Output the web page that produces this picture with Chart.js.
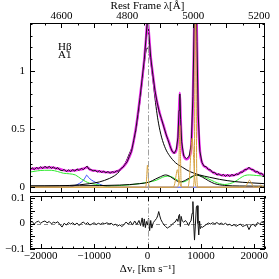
<!DOCTYPE html>
<html>
<head>
<meta charset="utf-8">
<script src="https://cdn.jsdelivr.net/npm/chart.js@4.4.0/dist/chart.umd.min.js"></script>
<style>
  html, body { margin: 0; padding: 0; background: #fff; }
  #wrap { position: relative; width: 279px; height: 279px; overflow: hidden; }
  #top { position: absolute; left: 0; top: 0; }
  #res { position: absolute; left: 0; top: 184px; }
</style>
</head>
<body>
<div id="wrap">
  <canvas id="top" width="279" height="205"></canvas>
  <canvas id="res" width="279" height="95"></canvas>
</div>
<script>
// Hbeta rest frame, velocity <-> wavelength
const LAMBDA0 = 4861.33;
const C_KMS = 299792.458;
const V_MIN = -22000, V_MAX = 22000;
const toLambda = v => LAMBDA0 * (1 + v / C_KMS);

// tick labels
const lambdaTicks = [4600, 4800, 5000, 5200];
const velocityTicks = [-20000, -10000, 0, 10000, 20000];
const fluxTicks = [0, 0.5, 1];
const residTicks = [-0.1, -0.05, 0, 0.05, 0.1];

// observed spectrum (black, noisy)
const obsV = [
  -22000,-21600,-21200,-20800,-20400,-20000,-19600,-19200,-18800,-18400,
  -18000,-17600,-17200,-16800,-16400,-16000,-15600,-15200,-14800,-14400,
  -14000,-13600,-13200,-12800,-12400,-12000,-11600,-11300,-11000,-10600,
  -10200,-9800,-9400,-9000,-8600,-8200,-7800,-7400,-7000,-6600,
  -6200,-5800,-5400,-5000,-4600,-4200,-3800,-3400,-3000,-2600,
  -2200,-1800,-1400,-1000,-600,-300,0,300,600,1000,
  1400,1800,2200,2600,3000,3400,3800,4200,4600,5000,
  5400,5700,5900,6050,6200,6400,6800,7300,7800,8200,
  8500,8750,9000,9250,9500,9800,10200,10600,11000,11400,
  11800,12200,12600,13000,13400,13800,14200,14600,15000,15400,
  15800,16200,16600,17000,17400,17800,18200,18600,19000,19400,
  19800,20200,20600,21000,21400,21800,22000
];
const obsFlux = [
  0.147,0.167,0.150,0.170,0.158,0.176,0.160,0.180,0.163,0.179,
  0.162,0.175,0.155,0.168,0.148,0.141,0.153,0.133,0.149,0.134,
  0.151,0.138,0.157,0.143,0.162,0.151,0.170,0.181,0.155,0.152,
  0.139,0.146,0.130,0.142,0.127,0.137,0.123,0.134,0.120,0.133,
  0.126,0.140,0.137,0.160,0.170,0.196,0.218,0.266,0.308,0.398,
  0.490,0.625,0.770,0.935,1.095,1.270,1.460,1.290,1.115,0.965,
  0.830,0.730,0.645,0.590,0.525,0.465,0.410,0.355,0.310,0.290,
  0.325,0.430,0.660,0.800,0.580,0.390,0.265,0.245,0.265,0.370,
  0.780,1.450,2.000,1.250,0.620,0.310,0.212,0.180,0.176,0.150,
  0.150,0.124,0.128,0.104,0.116,0.097,0.110,0.093,0.108,0.092,
  0.109,0.097,0.115,0.108,0.131,0.127,0.152,0.150,0.172,0.150,
  0.152,0.129,0.136,0.112,0.120,0.097,0.104
];

// total model (magenta)
const modelV = [
  -22000,-21000,-20000,-19000,-18000,-17000,-16000,-15000,-14000,-13000,
  -12000,-11500,-11200,-10800,-10000,-9000,-8000,-7000,-6000,-5000,
  -4000,-3500,-3000,-2500,-2000,-1500,-1000,-600,-300,0,
  300,600,1000,1500,2000,2500,3000,3500,4000,4500,
  5000,5400,5700,5900,6050,6200,6400,6800,7300,7800,
  8200,8500,8750,9000,9250,9500,9800,10300,11000,12000,
  13000,14000,15000,16000,17000,18000,19000,20000,21000,22000
];
const modelFlux = [
  0.155,0.16,0.165,0.17,0.17,0.163,0.15,0.14,0.143,0.15,
  0.158,0.168,0.17,0.152,0.142,0.135,0.13,0.127,0.132,0.155,
  0.205,0.25,0.31,0.42,0.56,0.74,0.93,1.1,1.26,1.44,
  1.3,1.12,0.97,0.8,0.69,0.6,0.53,0.45,0.39,0.32,
  0.295,0.32,0.42,0.65,0.81,0.6,0.38,0.27,0.24,0.26,
  0.36,0.75,1.4,2.0,1.3,0.6,0.32,0.2,0.17,0.135,
  0.112,0.103,0.1,0.102,0.115,0.14,0.162,0.14,0.12,0.1
];

// broad Hbeta component (black)
const broadV = [
  -22000,-16500,-12760,-10880,-9000,-8070,-7130,-6190,-5630,-4880,
  -4130,-3380,-2630,-2060,-1500,-1130,-750,-380,-90,190,
  560,940,1310,1690,2060,2630,3380,4130,5250,6570,
  7880,9750,11630,13510,16320,19140,22000
];
const broadFlux = [
  0.01,0.012,0.02,0.03,0.045,0.058,0.075,0.098,0.118,0.155,
  0.21,0.29,0.38,0.52,0.7,0.85,1.0,1.14,1.195,1.18,
  1.09,0.95,0.8,0.66,0.55,0.43,0.33,0.27,0.21,0.17,
  0.135,0.105,0.085,0.067,0.048,0.038,0.03
];

// second black component (bumps)
const bumpV = [-22000,-12760,-5250,-1500,380,1500,2440,3380,4320,5250,
  6190,7130,8070,9190,10320,11440,12570,14450,17260,22000];
const bumpFlux = [0.01,0.012,0.018,0.03,0.045,0.07,0.09,0.105,0.09,0.06,
  0.045,0.06,0.085,0.105,0.085,0.055,0.03,0.015,0.01,0.008];

// FeII template (green)
const feV = [
  -22000,-20640,-19320,-18010,-16880,-15760,-14630,-13510,-12380,-11630,
  -10880,-9760,-8630,-7500,-6190,-4880,-3380,-1500,380,1690,
  2810,3750,4690,5630,6570,7500,8440,9190,10130,11260,
  12570,13510,14450,15390,16320,17260,18200,19140,20450,22000
];
const feFlux = [
  0.13,0.14,0.145,0.145,0.135,0.12,0.115,0.105,0.07,0.05,
  0.035,0.025,0.015,0.01,0.012,0.015,0.02,0.03,0.045,0.06,
  0.085,0.095,0.085,0.06,0.045,0.06,0.09,0.103,0.095,0.075,
  0.046,0.03,0.023,0.03,0.046,0.075,0.1,0.105,0.1,0.095
];

// HeII 4686 (blue)
const heV = [-22000,-16000,-14600,-13700,-12760,-12000,-11630,-11390,-11070,
  -10510,-9760,-9000,-8250,-7500,-6750,-5600,22000];
const heFlux = [0,0,0.002,0.012,0.032,0.06,0.085,0.103,0.085,
  0.062,0.042,0.026,0.013,0.005,0.001,0,0];

// narrow lines (gold): Hb, [OIII]4959, [OIII]5007, weak red lines
const narrowV = [
  -22000,-500,-250,-120,0,120,250,500,
  5550,5800,5930,6050,6170,6300,6550,
  8500,8750,8870,8990,9110,9230,9480,
  18000,18500,18800,19100,19400,19700,20100,
  20700,20950,21200,21450,21700,22000
];
const narrowFlux = [
  0,0,0.02,0.12,0.19,0.12,0.02,0,
  0,0.03,0.3,0.53,0.3,0.03,0,
  0,0.09,0.9,1.6,0.9,0.09,0,
  0,0.015,0.04,0.06,0.04,0.015,0,
  0,0.01,0.018,0.01,0,0
];

// [OIII] blue wings (gold)
const wingV = [-22000,4800,5100,5350,5590,5830,6080,6400,7550,7850,8100,8350,8600,8850,9150,22000];
const wingFlux = [0,0,0.03,0.1,0.15,0.1,0.03,0,0,0.08,0.28,0.42,0.28,0.08,0,0];

// residuals
const resV = [
  -22000,-21600,-21200,-20800,-20400,-20000,-19600,-19200,-18800,-18400,
  -18000,-17600,-17200,-16800,-16400,-16000,-15600,-15200,-14800,-14400,
  -14000,-13600,-13200,-12800,-12400,-12000,-11600,-11200,-10800,-10400,
  -10000,-9600,-9200,-8800,-8400,-8000,-7600,-7200,-6800,-6400,
  -6000,-5600,-5200,-4800,-4400,-4000,-3600,-3200,-2800,-2400,
  -2000,-1600,-1300,-1000,-800,-600,-400,-200,0,200,
  400,600,800,1100,1400,1700,1900,2100,2300,2500,
  2800,3100,3400,3700,4000,4300,4600,4900,5200,5500,
  5700,5850,6000,6150,6300,6500,6800,7100,7400,7700,
  7950,8150,8350,8500,8650,8800,8950,9150,9300,9450,
  9600,9750,9900,10100,10300,10600,11000,11400,11800,12200,
  12600,13000,13400,13800,14200,14600,15000,15400,15800,16200,
  16600,17000,17400,17800,18200,18600,19000,19400,19800,20200,
  20600,21000,21400,21800,22000
];
const resFlux = [
  0.004,0.008,-0.002,0.006,0.009,0.001,0.007,0.010,0.003,0.008,
  -0.001,0.005,0.002,0.007,-0.004,-0.014,0.001,-0.006,0.004,-0.002,
  0.003,-0.005,0.002,-0.008,0.001,0.006,-0.003,0.004,-0.006,-0.002,
  0.003,-0.004,0.001,-0.003,0.002,-0.001,0.003,-0.002,0.001,-0.006,
  -0.003,-0.010,-0.005,-0.012,-0.004,0.006,-0.003,0.008,-0.006,0.010,
  -0.004,0.012,-0.008,0.022,-0.012,0.018,-0.016,0.008,-0.006,0.020,
  -0.028,0.012,-0.018,0.004,0.012,0.020,0.030,0.047,0.030,0.016,
  0.004,-0.006,-0.012,-0.018,-0.014,-0.010,-0.004,0.003,0.006,0.018,
  0.008,0.030,0.036,-0.012,0.028,0.010,0.005,0.012,0.004,-0.008,
  0.006,0.010,0.040,0.086,0.000,-0.065,-0.010,0.065,0.070,0.000,
  -0.045,0.010,-0.020,-0.012,-0.015,-0.010,-0.004,0.002,-0.002,0.003,
  -0.001,0.004,-0.003,0.002,-0.004,0.001,-0.006,-0.003,-0.009,-0.004,
  -0.011,-0.006,-0.002,-0.012,-0.008,-0.004,-0.024,-0.006,-0.003,-0.012,
  0.004,-0.002,0.006,0.002,0.004
];

const pts = (xs, ys) => xs.map((x, i) => ({ x: x, y: ys[i] }));
const fmt = v => String(+Number(v).toFixed(3)).replace('-', '\u2212');

Chart.defaults.font.family = "'Liberation Serif', 'DejaVu Serif', serif";
Chart.defaults.font.size = 11;
Chart.defaults.color = '#000';

function eachTick(min, max, step, major, fn) {
  for (let i = Math.ceil(min / step - 1e-9); i * step <= max + 1e-9; i++) {
    const val = i * step;
    const r = val / major;
    fn(val, Math.abs(r - Math.round(r)) < 1e-6);
  }
}

// box, inward ticks on all sides, reference lines
const framePlugin = {
  id: 'frame',
  beforeDatasetsDraw(chart, args, o) {
    if (!o.zeroLine) return;
    const { ctx, chartArea: a } = chart;
    const y0 = Math.round(chart.scales.y.getPixelForValue(0)) + 0.5;
    ctx.save();
    ctx.strokeStyle = '#8c8c8c';
    ctx.lineWidth = 1;
    ctx.setLineDash([4, 3]);
    ctx.beginPath(); ctx.moveTo(a.left, y0); ctx.lineTo(a.right, y0); ctx.stroke();
    ctx.restore();
  },
  afterDatasetsDraw(chart, args, o) {
    const { ctx, chartArea: a } = chart;
    ctx.save();
    const x0 = Math.round(chart.scales.x.getPixelForValue(0)) + 0.5;
    ctx.strokeStyle = '#a0a0a0';
    ctx.lineWidth = 1;
    ctx.setLineDash([6, 2, 1.5, 2]);
    ctx.beginPath(); ctx.moveTo(x0, a.top); ctx.lineTo(x0, a.bottom); ctx.stroke();
    ctx.setLineDash([]);

    ctx.strokeStyle = '#000';
    ctx.strokeRect(a.left + 0.5, a.top + 0.5, a.right - a.left - 1, a.bottom - a.top - 1);

    ctx.beginPath();
    const xs = chart.scales[o.xScale];
    eachTick(xs.min, xs.max, o.xMinor, o.xMajor, (val, major) => {
      const px = Math.round(xs.getPixelForValue(val)) + 0.5;
      const len = major ? 5 : 2.5;
      ctx.moveTo(px, a.top); ctx.lineTo(px, a.top + len);
      ctx.moveTo(px, a.bottom); ctx.lineTo(px, a.bottom - len);
    });
    const ys = chart.scales.y;
    eachTick(ys.min, ys.max, o.yMinor, o.yMajor, (val, major) => {
      const py = Math.round(ys.getPixelForValue(val)) + 0.5;
      const len = major ? 5 : 2.5;
      ctx.moveTo(a.left, py); ctx.lineTo(a.left + len, py);
      ctx.moveTo(a.right, py); ctx.lineTo(a.right - len, py);
    });
    ctx.stroke();

    if (o.labels) {
      ctx.fillStyle = '#000';
      ctx.font = "11px 'Liberation Serif', serif";
      ctx.textBaseline = 'alphabetic';
      o.labels.forEach(l => ctx.fillText(l.text, l.x, l.y));
    }
    ctx.restore();
  }
};

const line = (data, color, width, smooth) => ({
  data: data,
  borderColor: color,
  borderWidth: width,
  pointRadius: 0,
  fill: false,
  tension: 0,
  cubicInterpolationMode: smooth ? 'monotone' : 'default'
});

const GOLD = '#d6a13c';

// first dataset is drawn on top
new Chart(document.getElementById('top'), {
  type: 'line',
  data: {
    datasets: [
      line(pts(narrowV, narrowFlux), GOLD, 1, true),
      line(pts(wingV, wingFlux), GOLD, 1, true),
      line(pts(obsV, obsFlux), '#1a1a1a', 1, false),
      line(pts(modelV, modelFlux), '#f026f0', 2.5, true),
      line(pts(broadV, broadFlux), '#000', 1, true),
      line(pts(bumpV, bumpFlux), '#000', 1, true),
      line(pts(feV, feFlux), '#2ee82e', 1, true),
      line(pts(heV, heFlux), '#3344ff', 1, true)
    ]
  },
  options: {
    responsive: false,
    devicePixelRatio: 1,
    animation: false,
    events: [],
    layout: { padding: { left: 0, right: 14, top: 0, bottom: 12 } },
    plugins: {
      legend: { display: false },
      tooltip: { enabled: false },
      frame: {
        xScale: 'xTop', xMinor: 50, xMajor: 100, yMinor: 0.1, yMajor: 0.5,
        labels: [{ text: 'H\u03B2', x: 58, y: 50 }, { text: 'A1', x: 58, y: 58 }]
      }
    },
    scales: {
      x: { type: 'linear', display: false, min: V_MIN, max: V_MAX },
      xTop: {
        type: 'linear', position: 'top', min: toLambda(V_MIN), max: toLambda(V_MAX),
        grid: { display: false, drawTicks: false },
        border: { display: false },
        afterBuildTicks: s => { s.ticks = lambdaTicks.map(v => ({ value: v })); },
        afterFit: s => { s.height = 23; },
        ticks: { padding: 0, maxRotation: 0, autoSkip: false, callback: v => String(v) },
        title: { display: true, text: 'Rest Frame \u03BB[\u00C5]', padding: { top: 0, bottom: 0 } }
      },
      y: {
        type: 'linear', min: -0.05, max: 1.41,
        grid: { display: false, drawTicks: false },
        border: { display: false },
        afterBuildTicks: s => { s.ticks = fluxTicks.map(v => ({ value: v })); },
        afterFit: s => { s.width = 30; },
        ticks: { padding: 5, callback: fmt }
      }
    }
  },
  plugins: [framePlugin]
});

new Chart(document.getElementById('res'), {
  type: 'line',
  data: {
    datasets: [line(pts(resV, resFlux), '#111', 1, false)]
  },
  options: {
    responsive: false,
    devicePixelRatio: 1,
    animation: false,
    events: [],
    layout: { padding: { left: 0, right: 14, top: 12, bottom: 0 } },
    plugins: {
      legend: { display: false },
      tooltip: { enabled: false },
      frame: { xScale: 'x', xMinor: 2000, xMajor: 10000, yMinor: 0.01, yMajor: 0.05, zeroLine: true }
    },
    scales: {
      x: {
        type: 'linear', position: 'bottom', min: V_MIN, max: V_MAX,
        grid: { display: false, drawTicks: false },
        border: { display: false },
        afterBuildTicks: s => { s.ticks = velocityTicks.map(v => ({ value: v })); },
        afterFit: s => { s.height = 30; },
        ticks: { padding: 1, maxRotation: 0, autoSkip: false, callback: fmt },
        title: { display: true, text: '\u0394v\u1D63 [km s\u207B\u00B9]', padding: { top: 0, bottom: 3 } }
      },
      y: {
        type: 'linear', min: -0.1, max: 0.108,
        grid: { display: false, drawTicks: false },
        border: { display: false },
        afterBuildTicks: s => { s.ticks = residTicks.map(v => ({ value: v })); },
        afterFit: s => { s.width = 30; },
        ticks: { padding: 5, callback: fmt }
      }
    }
  },
  plugins: [framePlugin]
});
</script>
</body>
</html>
